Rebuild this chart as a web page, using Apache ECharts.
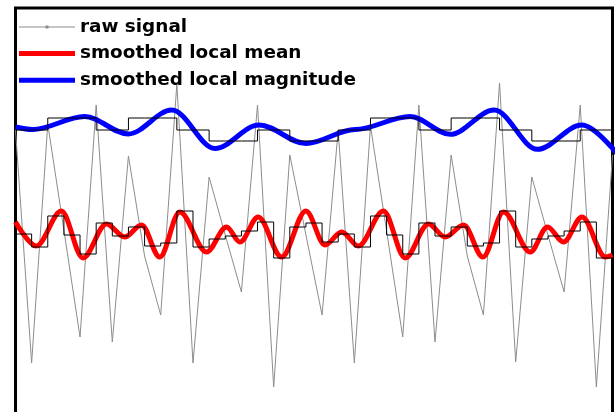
<!DOCTYPE html>
<html><head><meta charset="utf-8">
<script src="https://cdn.jsdelivr.net/npm/echarts@6/dist/echarts.min.js"></script>
<style>html,body{margin:0;padding:0;background:#fff}#c{width:616px;height:412px}</style>
</head><body><div id="c"></div>
<script>
// sample index of the raw signal
const sampleIndex = [0,1,2,3,4,5,6,7,8,9,10,11,12,13,14,15,16,17,18,19,20,21,22,23,24,25,26,27,28,29,30,31,32,33,34,35,36,37];
const rawSignal = [1.08,-1.25,1.14,0.08,-0.99,1.33,-1.04,0.82,-0.18,-0.77,1.54,-1.25,0.61,0.03,-0.54,1.33,-1.49,0.83,0.03,-0.77,1.08,-1.25,1.12,0.07,-0.99,1.33,-1.04,0.83,-0.18,-0.77,1.55,-1.24,0.61,0.03,-0.54,1.33,-1.49,0.83];
// piecewise-constant local mean (value holds from sample k to k+1)
const localMeanSteps = [0.04,-0.09,0.22,0.03,-0.16,0.15,0.02,0.11,-0.08,-0.05,0.27,-0.09,-0.01,0.02,0.07,0.16,-0.20,0.11,0.15,-0.04,0.04,-0.09,0.22,0.03,-0.16,0.15,0.02,0.11,-0.08,-0.05,0.27,-0.09,-0.01,0.02,0.07,0.16,-0.20,-0.20];
// piecewise-constant local magnitude
const localMagnitudeSteps = [1.08,1.08,1.20,1.20,1.20,1.08,1.08,1.20,1.20,1.20,1.08,1.08,0.97,0.97,0.97,1.08,1.08,0.97,0.97,0.97,1.08,1.08,1.20,1.20,1.20,1.08,1.08,1.20,1.20,1.20,1.08,1.08,0.97,0.97,0.97,1.08,1.08,1.08];
// smoothed local mean (turning points)
const meanCurveX = [0,1.29,2.84,4.18,5.63,6.77,7.81,8.94,10.18,11.84,13.08,13.91,15.04,16.49,18.00,19.18,20.22,21.25,22.80,24.15,25.59,26.63,27.77,28.97,30.25,31.90,32.97,33.96,35.11,36.56,37];
const meanCurveY = [0.16,-0.08,0.27,-0.20,0.14,0.01,0.13,-0.19,0.26,-0.14,0.11,-0.04,0.21,-0.19,0.27,-0.07,0.06,-0.08,0.27,-0.20,0.14,0.01,0.13,-0.19,0.26,-0.14,0.11,-0.04,0.21,-0.19,-0.17];
// smoothed local magnitude (turning points)
const magCurveX = [0,1.06,4.29,6.99,9.69,12.36,15.09,18.00,21.04,24.46,26.94,29.67,32.34,35.10,37.6];
const magCurveY = [1.11,1.085,1.215,1.04,1.28,0.895,1.13,0.945,1.085,1.215,1.037,1.28,0.887,1.13,0.78];
const legendNames = ['raw signal','smoothed local mean','smoothed local magnitude'];

const zip = (a, b) => a.map((v, i) => [v, b[i]]);
const thickIcon = 'path://M0 0H56V5H0Z';
const rawIcon = 'path://M0 1.5H26.5V0.5H29.5V1.5H56V2.5H29.5V3.5H26.5V2.5H0Z';
const chart = echarts.init(document.getElementById('c'), null, {renderer: 'canvas'});
chart.setOption({
  animation: false,
  backgroundColor: '#fff',
  grid: {left: 15.5, right: 3.5, top: 8, bottom: -16, outerBoundsMode: 'none', containLabel: false,
         show: true, borderColor: '#000', borderWidth: 3, backgroundColor: 'transparent'},
  xAxis: {type: 'value', min: 0, max: 37, show: false},
  yAxis: {type: 'value', min: -1.9, max: 2.3, show: false},
  legend: {
    data: [
      {name: legendNames[0], icon: rawIcon, itemStyle: {color: '#8c8c8c'}},
      {name: legendNames[1], icon: thickIcon, itemStyle: {color: '#ff0000'}},
      {name: legendNames[2], icon: thickIcon, itemStyle: {color: '#0000ff'}}
    ],
    orient: 'vertical', left: 19, top: 18, padding: 0,
    itemWidth: 56, itemHeight: 12, itemGap: 8.6,
    textStyle: {fontFamily: 'DejaVu Sans', fontWeight: 'bold', fontSize: 18.4, color: '#000'}
  },
  series: [
    {name: legendNames[0], type: 'line', data: zip(sampleIndex, rawSignal), showSymbol: false, symbol: 'rect', symbolSize: 3,
     lineStyle: {color: '#8c8c8c', width: 1}, itemStyle: {color: '#8c8c8c'}},
    {name: legendNames[1], type: 'line', data: zip(meanCurveX, meanCurveY), showSymbol: false, symbol: 'none', smooth: 0.34, smoothMonotone: 'x',
     lineStyle: {color: '#ff0000', width: 5}, itemStyle: {color: '#ff0000'}},
    {name: legendNames[2], type: 'line', data: zip(magCurveX, magCurveY), showSymbol: false, symbol: 'none', smooth: 0.34, smoothMonotone: 'x',
     lineStyle: {color: '#0000ff', width: 5}, itemStyle: {color: '#0000ff'}},
    {name: 'local mean', type: 'line', step: 'end', data: zip(sampleIndex, localMeanSteps), showSymbol: false, symbol: 'none',
     lineStyle: {color: '#000', width: 1}},
    {name: 'local magnitude', type: 'line', step: 'end', data: zip(sampleIndex, localMagnitudeSteps), showSymbol: false, symbol: 'none',
     lineStyle: {color: '#000', width: 1}}
  ]
});
</script></body></html>
